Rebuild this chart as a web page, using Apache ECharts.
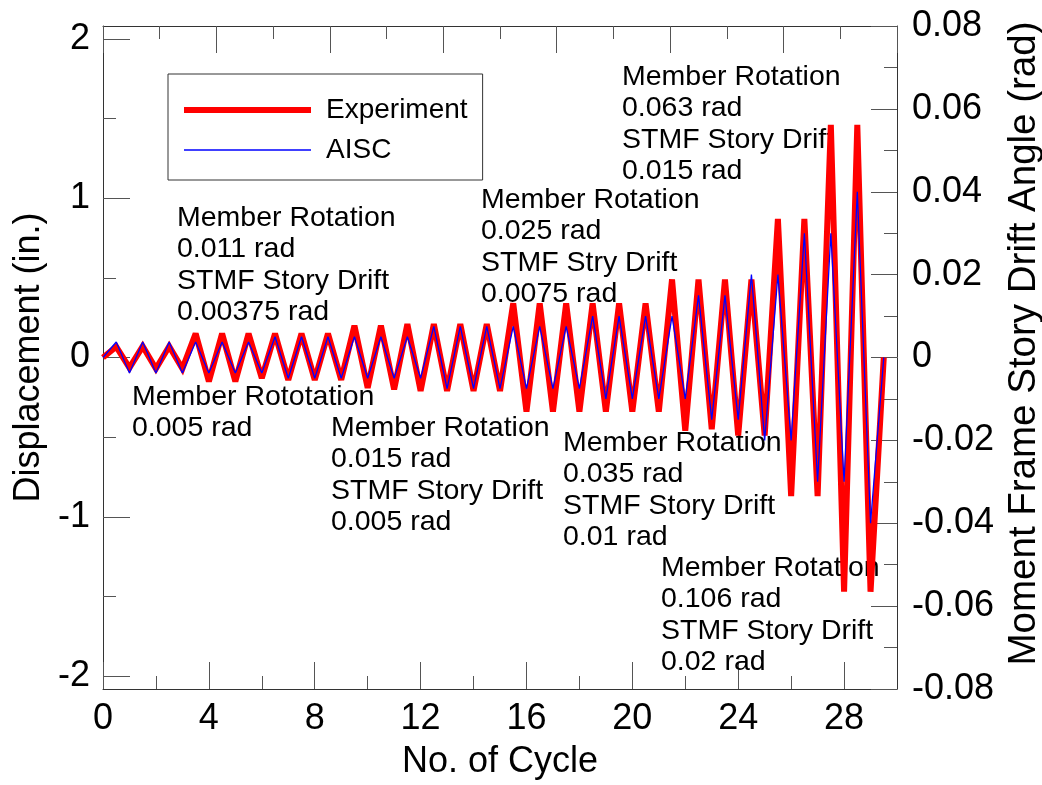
<!DOCTYPE html>
<html>
<head>
<meta charset="utf-8">
<title>Cyclic loading history</title>
<script src="https://cdn.jsdelivr.net/npm/echarts@6/dist/echarts.min.js"></script>
<style>
  html, body { margin: 0; padding: 0; background: #fff; }
  #chart { width: 1042px; height: 785px; }
</style>
</head>
<body>
<div id="chart"></div>
<script>
// cycle number of each turning point (peak / trough)
const cycles = [
  0, 0.5, 1, 1.5, 2, 2.5, 3, 3.5, 4, 4.5,
  5, 5.5, 6, 6.5, 7, 7.5, 8, 8.5, 9, 9.5,
  10, 10.5, 11, 11.5, 12, 12.5, 13, 13.5, 14, 14.5,
  15, 15.5, 16, 16.5, 17, 17.5, 18, 18.5, 19, 19.5,
  20, 20.5, 21, 21.5, 22, 22.5, 23, 23.5, 24, 24.5,
  25, 25.5, 26, 26.5, 27, 27.5, 28, 28.5, 29, 29.5
];
// displacement (in.)
const experiment = [
  0, 0.068, -0.065, 0.07, -0.07, 0.07, -0.07, 0.15, -0.15, 0.15,
  -0.15, 0.15, -0.13, 0.15, -0.14, 0.15, -0.14, 0.15, -0.14, 0.2,
  -0.19, 0.2, -0.2, 0.21, -0.21, 0.21, -0.21, 0.21, -0.21, 0.21,
  -0.21, 0.34, -0.34, 0.34, -0.34, 0.34, -0.34, 0.34, -0.34, 0.34,
  -0.34, 0.34, -0.34, 0.49, -0.46, 0.49, -0.45, 0.49, -0.49, 0.49,
  -0.49, 0.87, -0.87, 0.87, -0.87, 1.46, -1.47, 1.46, -1.47, 0
];
const aisc = [
  0, 0.097, -0.097, 0.097, -0.097, 0.097, -0.097, 0.097, -0.097, 0.097,
  -0.097, 0.097, -0.097, 0.13, -0.13, 0.13, -0.13, 0.13, -0.13, 0.13,
  -0.13, 0.13, -0.13, 0.13, -0.13, 0.195, -0.195, 0.195, -0.195, 0.195,
  -0.195, 0.195, -0.195, 0.195, -0.195, 0.195, -0.195, 0.26, -0.26, 0.26,
  -0.26, 0.26, -0.26, 0.26, -0.26, 0.39, -0.39, 0.39, -0.39, 0.52,
  -0.52, 0.52, -0.52, 0.78, -0.78, 0.78, -0.78, 1.04, -1.04, 0
];

const xMajorTicks = [0, 4, 8, 12, 16, 20, 24, 28];
const xMinorTicks = [2, 6, 10, 14, 18, 22, 26];
const yMajorTicks = [-2, -1, 0, 1, 2];
const yMinorTicks = [-1.5, -0.5, 0.5, 1.5];

const notes = [
  'Member Rotation\n0.011 rad\nSTMF Story Drift\n0.00375 rad',
  'Member Rototation\n0.005 rad',
  'Member Rotation\n0.015 rad\nSTMF Story Drift\n0.005 rad',
  'Member Rotation\n0.025 rad\nSTMF Stry Drift\n0.0075 rad',
  'Member Rotation\n0.035 rad\nSTMF Story Drift\n0.01 rad',
  'Member Rotation\n0.063 rad\nSTMF Story Drift\n0.015 rad',
  'Member Rotation\n0.106 rad\nSTMF Story Drift\n0.02 rad'
];

const FONT = '"Liberation Sans", Arial, sans-serif';
const lineCol = '#333';
const tickCol = '#555';

// where each note block starts (top-left, px)
const notePos = [[177, 202], [132, 381], [331, 412], [481, 184], [563, 427], [622, 61], [661, 552]];

const chart = echarts.init(document.getElementById('chart'));

const axisText = { fontFamily: FONT, fontSize: 36, color: '#000' };

const option = {
  animation: false,
  backgroundColor: '#fff',
  grid: { left: 103, right: 145, top: 26, bottom: 96, containLabel: false, outerBoundsMode: 'none' },
  legend: {
    left: 168,
    top: 74,
    orient: 'vertical',
    borderColor: lineCol,
    borderWidth: 1,
    padding: [21, 15, 15, 13],
    itemWidth: 127,
    itemHeight: 16,
    itemGap: 10,
    itemStyle: { opacity: 0 },
    textStyle: { fontFamily: FONT, fontSize: 28, color: '#000', lineHeight: 30, padding: [0, 0, 0, 10] },
    data: [
      { name: 'Experiment', lineStyle: { width: 6 } },
      { name: 'AISC', lineStyle: { width: 1.3 } }
    ]
  },
  xAxis: [
    {
      type: 'value', position: 'bottom', min: 0, max: 30,
      name: 'No. of Cycle', nameLocation: 'middle', nameGap: 55,
      nameTextStyle: axisText,
      axisLine: { onZero: false, lineStyle: { color: lineCol, width: 1 } },
      axisTick: { inside: true, length: 27, customValues: xMajorTicks, lineStyle: { color: tickCol } },
      axisLabel: { customValues: xMajorTicks, margin: 12, ...axisText },
      splitLine: { show: false }
    },
    {
      type: 'value', position: 'bottom', min: 0, max: 30,
      axisLine: { show: false, onZero: false },
      axisTick: { inside: true, length: 13, customValues: xMinorTicks, lineStyle: { color: tickCol } },
      axisLabel: { show: false },
      splitLine: { show: false }
    },
    {
      type: 'value', position: 'top', min: 0, max: 7, interval: 1,
      axisLine: { onZero: false, lineStyle: { color: lineCol, width: 1 } },
      axisTick: { inside: true, length: 27, lineStyle: { color: tickCol } },
      minorTick: { show: true, splitNumber: 2, length: 13, lineStyle: { color: tickCol } },
      axisLabel: { show: false },
      splitLine: { show: false }
    }
  ],
  yAxis: [
    {
      type: 'value', position: 'left', min: -2.08, max: 2.08,
      name: 'Displacement (in.)', nameLocation: 'middle', nameGap: 53, nameRotate: 90,
      nameTextStyle: axisText,
      axisLine: { onZero: false, lineStyle: { color: lineCol, width: 1 } },
      axisTick: { inside: true, length: 27, customValues: yMajorTicks, lineStyle: { color: tickCol } },
      axisLabel: { customValues: yMajorTicks, margin: 13, ...axisText },
      splitLine: { show: false }
    },
    {
      type: 'value', position: 'left', min: -2.08, max: 2.08,
      axisLine: { show: false, onZero: false },
      axisTick: { inside: true, length: 13, customValues: yMinorTicks, lineStyle: { color: tickCol } },
      axisLabel: { show: false },
      splitLine: { show: false }
    },
    {
      type: 'value', position: 'right', min: -0.08, max: 0.08, interval: 0.02,
      name: 'Moment Frame Story Drift Angle (rad)', nameLocation: 'middle', nameGap: 103, nameRotate: 90,
      nameTextStyle: { ...axisText, fontSize: 38.5, padding: [0, 0, 0, 28] },
      axisLine: { onZero: false, lineStyle: { color: lineCol, width: 1 } },
      axisTick: { inside: true, length: 26, lineStyle: { color: tickCol } },
      minorTick: { show: true, splitNumber: 2, length: 13, lineStyle: { color: tickCol } },
      axisLabel: { margin: 15, ...axisText },
      splitLine: { show: false }
    }
  ],
  series: [
    {
      name: 'Experiment', type: 'line', xAxisIndex: 0, yAxisIndex: 0,
      symbol: 'none',
      data: cycles.map((c, i) => [c, experiment[i]]),
      lineStyle: { color: '#ff0000', width: 6, join: 'miter', miterLimit: 3 },
      itemStyle: { color: '#ff0000' }
    },
    {
      name: 'AISC', type: 'line', xAxisIndex: 0, yAxisIndex: 0,
      symbol: 'none',
      data: cycles.map((c, i) => [c, aisc[i]]),
      lineStyle: { color: '#0000ff', width: 1.3 },
      itemStyle: { color: '#0000ff' }
    }
  ],
  graphic: notes.map((t, i) => ({
    type: 'text',
    x: notePos[i][0],
    y: notePos[i][1],
    z: 1,
    style: {
      text: t,
      font: '28.5px ' + FONT,
      fill: '#000',
      lineHeight: 31.5,
      verticalAlign: 'top'
    }
  }))
};

chart.setOption(option);
</script>
</body>
</html>
